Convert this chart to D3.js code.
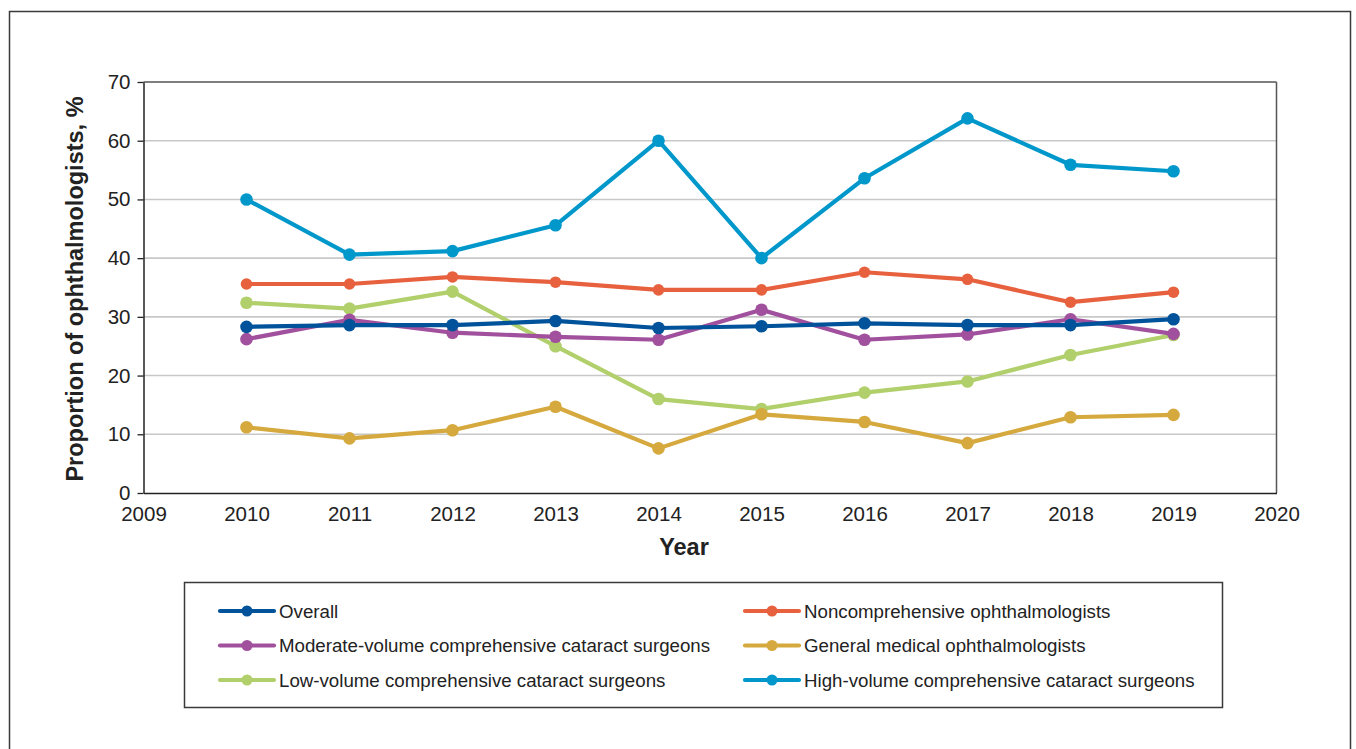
<!DOCTYPE html>
<html>
<head>
<meta charset="utf-8">
<script src="https://cdn.jsdelivr.net/npm/d3@7/dist/d3.min.js"></script>
<style>
  html, body { margin: 0; padding: 0; background: #fff; }
  svg { display: block; font-family: "Liberation Sans", Arial, Helvetica, sans-serif; }
</style>
</head>
<body>
<svg id="chart" width="1356" height="749"></svg>
<script>
const years = [2010, 2011, 2012, 2013, 2014, 2015, 2016, 2017, 2018, 2019];
const xTicks = [2009, 2010, 2011, 2012, 2013, 2014, 2015, 2016, 2017, 2018, 2019, 2020];
const yTicks = [0, 10, 20, 30, 40, 50, 60, 70];

const overall       = [28.3, 28.6, 28.6, 29.3, 28.1, 28.4, 28.9, 28.6, 28.6, 29.6];
const noncomp       = [35.6, 35.6, 36.8, 35.9, 34.6, 34.6, 37.6, 36.4, 32.5, 34.2];
const moderate      = [26.2, 29.5, 27.3, 26.6, 26.1, 31.2, 26.1, 27.0, 29.6, 27.1];
const general       = [11.2,  9.3, 10.7, 14.7,  7.6, 13.4, 12.1,  8.5, 12.9, 13.3];
const lowVolume     = [32.4, 31.4, 34.3, 25.0, 16.0, 14.3, 17.1, 19.0, 23.5, 26.9];
const highVolume    = [50.0, 40.6, 41.2, 45.6, 60.0, 40.0, 53.6, 63.8, 55.9, 54.8];

const seriesNames = [
  "Overall",
  "Noncomprehensive ophthalmologists",
  "Moderate-volume comprehensive cataract surgeons",
  "General medical ophthalmologists",
  "Low-volume comprehensive cataract surgeons",
  "High-volume comprehensive cataract surgeons"
];
const seriesValues = [overall, noncomp, moderate, general, lowVolume, highVolume];
const seriesColors = ["#00539a", "#e8613f", "#a0509d", "#d5a93d", "#b1cf6b", "#0097cb"];
const drawOrder = [4, 3, 2, 1, 0, 5];

const svg = d3.select("#chart");

svg.append("rect")
  .attr("x", 9.5).attr("y", 11.5)
  .attr("width", 1341).attr("height", 760)
  .attr("fill", "none").attr("stroke", "#3a3a3a").attr("stroke-width", 1.5);

const pLeft = 143.5, pRight = 1276.5, pTop = 82, pBottom = 493;

const x = d3.scaleLinear().domain([2009, 2020]).range([pLeft, pRight]);
const y = d3.scaleLinear().domain([0, 70]).range([pBottom, pTop]);

svg.append("g")
  .selectAll("line")
  .data(yTicks.filter(d => d > 0 && d < 70))
  .join("line")
  .attr("x1", pLeft).attr("x2", pRight)
  .attr("y1", d => y(d)).attr("y2", d => y(d))
  .attr("stroke", "#c8c8c8").attr("stroke-width", 1.6);

svg.append("line").attr("x1", pLeft).attr("x2", pRight).attr("y1", pTop).attr("y2", pTop)
  .attr("stroke", "#555").attr("stroke-width", 1.5);
svg.append("line").attr("x1", pRight).attr("x2", pRight).attr("y1", pTop).attr("y2", pBottom)
  .attr("stroke", "#555").attr("stroke-width", 1.5);

const yAxis = svg.append("g")
  .attr("transform", `translate(${pLeft},0)`)
  .call(d3.axisLeft(y).tickValues(yTicks).tickSize(6).tickPadding(7).tickSizeOuter(0));
yAxis.select(".domain").attr("stroke", "#222").attr("stroke-width", 1.5);
yAxis.selectAll(".tick line").attr("stroke", "#222").attr("stroke-width", 1.3);
yAxis.selectAll(".tick text").attr("font-size", 20.5).attr("fill", "#222")
  .attr("font-family", "'Liberation Sans', Arial, sans-serif");

const xAxis = svg.append("g")
  .attr("transform", `translate(0,${pBottom})`)
  .call(d3.axisBottom(x).tickValues(xTicks).tickFormat(d3.format("d")).tickSize(0).tickPadding(13).tickSizeOuter(0));
xAxis.select(".domain").attr("stroke", "#222").attr("stroke-width", 1.5);
xAxis.selectAll(".tick text").attr("font-size", 20.5).attr("fill", "#222")
  .attr("font-family", "'Liberation Sans', Arial, sans-serif");

svg.append("text")
  .attr("x", 684).attr("y", 555)
  .attr("text-anchor", "middle")
  .attr("font-size", 23.5).attr("font-weight", "bold").attr("fill", "#222")
  .text("Year");

svg.append("text")
  .attr("transform", `translate(83,289) rotate(-90)`)
  .attr("text-anchor", "middle")
  .attr("font-size", 23.5).attr("font-weight", "bold").attr("fill", "#222")
  .text("Proportion of ophthalmologists, %");

const line = d3.line().x((d, i) => x(years[i])).y(d => y(d));
drawOrder.forEach(si => {
  const g = svg.append("g");
  g.append("path")
    .datum(seriesValues[si])
    .attr("d", line)
    .attr("fill", "none")
    .attr("stroke", seriesColors[si])
    .attr("stroke-width", 4.2)
    .attr("stroke-linejoin", "round");
  g.selectAll("circle")
    .data(seriesValues[si])
    .join("circle")
    .attr("cx", (d, i) => x(years[i]))
    .attr("cy", d => y(d))
    .attr("r", si === 1 ? 5.8 : 6.3)
    .attr("fill", seriesColors[si]);
});

svg.append("rect")
  .attr("x", 184.5).attr("y", 582.5).attr("width", 1038).attr("height", 125)
  .attr("fill", "#fff").attr("stroke", "#3a3a3a").attr("stroke-width", 1.5);

const legCols = [{lx: 220, tx: 279}, {lx: 745, tx: 804}];
const legRows = [611, 645.5, 680];
seriesNames.forEach((name, i) => {
  const c = legCols[i % 2];
  const ry = legRows[Math.floor(i / 2)];
  const g = svg.append("g");
  g.append("line")
    .attr("x1", c.lx).attr("x2", c.lx + 54)
    .attr("y1", ry).attr("y2", ry)
    .attr("stroke", seriesColors[i]).attr("stroke-width", 4.2).attr("stroke-linecap", "round");
  g.append("circle")
    .attr("cx", c.lx + 27).attr("cy", ry).attr("r", 5.5)
    .attr("fill", seriesColors[i]);
  g.append("text")
    .attr("x", c.tx).attr("y", ry).attr("dy", "0.35em")
    .attr("font-size", 18.7).attr("fill", "#222")
    .text(name);
});
</script>
</body>
</html>
